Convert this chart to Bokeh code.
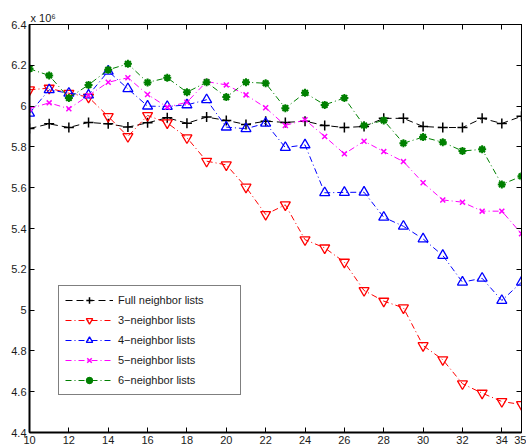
from bokeh.plotting import figure
from bokeh.models import (LinearAxis, FixedTicker, CustomJSTickFormatter, Range1d,
                          Legend, LegendItem, Title)
from bokeh.embed import file_html
from bokeh.resources import INLINE

# ---- data (values in units of 10^6) ----
x_vals = list(range(10, 36))
full_lists = [5.890, 5.913, 5.895, 5.920, 5.913, 5.897, 5.918, 5.943, 5.916, 5.946,
              5.930, 5.910, 5.926, 5.920, 5.926, 5.905, 5.895, 5.900, 5.940, 5.940,
              5.900, 5.895, 5.895, 5.940, 5.915, 5.950]
n3_lists = [6.080, 6.088, 6.063, 6.044, 5.949, 5.851, 5.954, 5.918, 5.845, 5.730,
            5.712, 5.603, 5.469, 5.516, 5.345, 5.305, 5.235, 5.096, 5.044, 5.011,
            4.826, 4.757, 4.639, 4.593, 4.552, 4.537]
n4_lists = [5.965, 6.080, 6.063, 6.054, 6.171, 6.085, 6.000, 5.998, 6.006, 6.031,
            5.897, 5.889, 5.916, 5.797, 5.810, 5.575, 5.577, 5.578, 5.455, 5.411,
            5.349, 5.268, 5.137, 5.156, 5.047, 5.137]
n5_lists = [5.987, 6.016, 5.987, 6.052, 6.117, 6.139, 6.057, 5.995, 6.019, 6.120,
            6.104, 6.055, 5.992, 5.905, 5.933, 5.851, 5.766, 5.828, 5.777, 5.728,
            5.624, 5.540, 5.529, 5.485, 5.485, 5.374]
n6_lists = [6.183, 6.150, 6.040, 6.104, 6.178, 6.207, 6.116, 6.139, 6.068, 6.117,
            6.044, 6.117, 6.112, 5.990, 6.065, 6.006, 6.040, 5.905, 5.930, 5.818,
            5.848, 5.823, 5.780, 5.788, 5.616, 5.656]
series_labels = ["Full neighbor lists", "3\u2212neighbor lists", "4\u2212neighbor lists",
                 "5\u2212neighbor lists", "6\u2212neighbor lists"]
x_ticks = [10, 12, 14, 16, 18, 20, 22, 24, 26, 28, 30, 32, 34, 35]
y_ticks = [4.4, 4.6, 4.8, 5.0, 5.2, 5.4, 5.6, 5.8, 6.0, 6.2, 6.4]
scale_text = "x 10\u2076"

FONT = "Liberation Sans"

p = figure(width=526, height=447, output_backend="svg", toolbar_location=None,
           x_range=Range1d(10, 35), y_range=Range1d(4.4, 6.4),
           min_border_left=29, min_border_right=5, min_border_top=24, min_border_bottom=15,
           x_axis_location=None, y_axis_location=None)
p.xgrid.visible = False
p.ygrid.visible = False
p.outline_line_color = "black"
p.outline_line_width = 1
p.background_fill_color = "white"
p.border_fill_color = "white"

fmt = CustomJSTickFormatter(code="return (Math.round(tick*10)/10).toString();")
blank_fmt = CustomJSTickFormatter(code="return '';")

def make_axis(ticks, labels=True, width=1):
    ax = LinearAxis(ticker=FixedTicker(ticks=ticks), formatter=fmt if labels else blank_fmt)
    ax.major_tick_in = 5
    ax.major_tick_out = 0
    ax.minor_tick_in = 0
    ax.minor_tick_out = 0
    ax.axis_line_width = width
    ax.major_tick_line_width = 1
    if labels:
        ax.major_label_text_font = FONT
        ax.major_label_text_font_size = "11px"
        ax.major_label_text_color = "#1a1a1a"
        ax.major_label_standoff = 3
    else:
        ax.major_label_text_color = None
        ax.major_label_text_font_size = "1px"
        ax.major_label_standoff = 0
    return ax

p.add_layout(make_axis(x_ticks, True, 2), "below")
p.add_layout(make_axis(y_ticks, True, 2), "left")
p.add_layout(make_axis(x_ticks, False, 1), "above")
p.add_layout(make_axis(y_ticks, False, 1), "right")

dash_dot = "6 3 1 3"
specs = [
    (full_lists, "black", "7 4", "cross", 10, 1.5, None),
    (n3_lists, "#ff0000", dash_dot, "inverted_triangle", 10, 1.3, None),
    (n4_lists, "#0000ff", dash_dot, "triangle", 10, 1.3, None),
    (n5_lists, "#ff00ff", dash_dot, "x", 7, 1.5, None),
    (n6_lists, "#008000", dash_dot, "asterisk", 8, 2.0, "#008000"),
]

items = []
for (vals, col, dash, mk, sz, lw, fill), lab in zip(specs, series_labels):
    r1 = p.line(x_vals, vals, line_color=col, line_width=1, line_dash=dash)
    rs = [r1]
    if mk == "asterisk":
        r0 = p.scatter(x_vals, vals, marker="circle", size=5, fill_color=col, line_color=col)
        rs.append(r0)
    r2 = p.scatter(x_vals, vals, marker=mk, size=sz, line_color=col, line_width=lw,
                   fill_color=fill)
    rs.append(r2)
    items.append(LegendItem(label=lab, renderers=rs))

legend = Legend(items=items, location=(29, 37))
legend.label_text_font = FONT
legend.label_text_font_size = "11px"
legend.label_text_color = "#1a1a1a"
legend.glyph_width = 48
legend.glyph_height = 16
legend.label_height = 16
legend.label_width = 116
legend.label_standoff = 5
legend.spacing = 4
legend.padding = 6
legend.margin = 0
legend.border_line_color = "black"
legend.border_line_width = 1
legend.background_fill_color = "white"
legend.background_fill_alpha = 1
p.add_layout(legend, "center")

t = Title(text=scale_text, align="left", text_font=FONT, text_font_size="11px",
          text_font_style="normal", text_color="#1a1a1a", offset=1, standoff=1)
p.add_layout(t, "above")

open("out.html", "w").write(file_html(p, INLINE))
